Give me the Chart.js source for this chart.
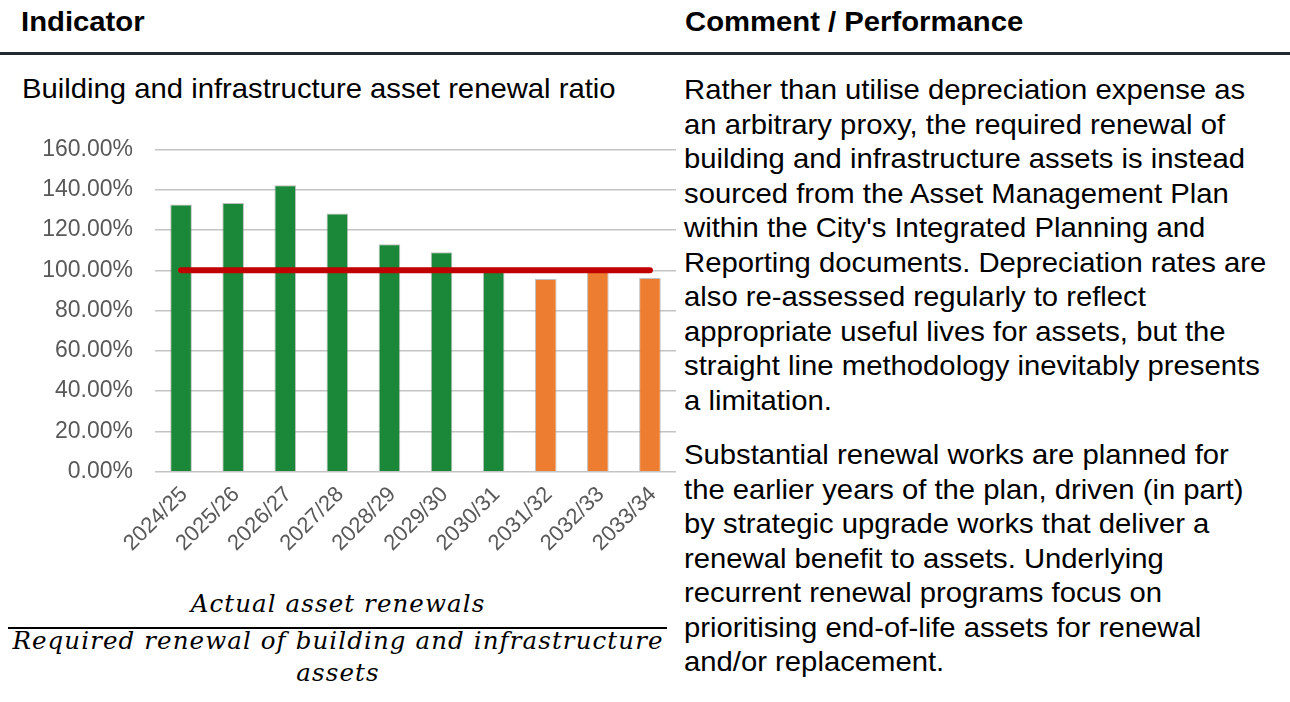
<!DOCTYPE html>
<html>
<head>
<meta charset="utf-8">
<script src="https://cdn.jsdelivr.net/npm/chart.js@4"></script>
<style>
  html, body { margin: 0; padding: 0; background: #fff; }
  body { width: 1290px; height: 702px; position: relative; overflow: hidden;
         font-family: "Liberation Sans", Arial, sans-serif; color: #000; }
  .txt { position: absolute; font-size: 28px; line-height: 34.5px; white-space: nowrap;
         transform: scaleX(1.045); transform-origin: 0 0; }
  .hdr { font-weight: bold; }
  .rule { position: absolute; left: 0; top: 52px; width: 1290px; height: 3px; background: #222a30; }
  #chartBox { position: absolute; left: 0; top: 130px; width: 680px; height: 430px; }
  .formula { position: absolute; left: 0; width: 676px; text-align: center; line-height: 30px;
             font-family: "DejaVu Serif", serif; font-style: italic; font-size: 24.5px;
             letter-spacing: 1.1px; white-space: nowrap; }
  .fracbar { position: absolute; left: 8px; top: 627px; width: 659px; height: 2px; background: #000; }
</style>
</head>
<body>
  <div class="txt hdr" style="left:21px; top:5px">Indicator</div>
  <div class="txt hdr" style="left:685px; top:5px">Comment / Performance</div>
  <div class="rule"></div>

  <div class="txt" style="left:22px; top:72px">Building and infrastructure asset renewal ratio</div>

  <div id="chartBox"><canvas id="chart"></canvas></div>

  <div class="formula" style="top:589px">Actual asset renewals</div>
  <div class="fracbar"></div>
  <div class="formula" style="top:626px">Required renewal of building and infrastructure</div>
  <div class="formula" style="top:658px">assets</div>

  <div class="txt" style="left:684px; top:73px">
    Rather than utilise depreciation expense as<br>
    an arbitrary proxy, the required renewal of<br>
    building and infrastructure assets is instead<br>
    sourced from the Asset Management Plan<br>
    within the City's Integrated Planning and<br>
    Reporting documents. Depreciation rates are<br>
    also re-assessed regularly to reflect<br>
    appropriate useful lives for assets, but the<br>
    straight line methodology inevitably presents<br>
    a limitation.
  </div>
  <div class="txt" style="left:684px; top:438px">
    Substantial renewal works are planned for<br>
    the earlier years of the plan, driven (in part)<br>
    by strategic upgrade works that deliver a<br>
    renewal benefit to assets. Underlying<br>
    recurrent renewal programs focus on<br>
    prioritising end-of-life assets for renewal<br>
    and/or replacement.
  </div>

<script>
// Financial years on the category axis
const years = ['2024/25', '2025/26', '2026/27', '2027/28', '2028/29',
               '2029/30', '2030/31', '2031/32', '2032/33', '2033/34'];

// Renewal ratio per year, in percent
const renewalRatio = [132.7, 133.4, 142.3, 128.2, 113.0, 109.0, 99.6, 95.7, 99.4, 96.2];

// Benchmark ratio (100%) drawn as a line across the years
const benchmark = [100, 100, 100, 100, 100, 100, 100, 100, 100, 100];

// Which years are in the first block vs the later block of the plan
const period = ['early', 'early', 'early', 'early', 'early', 'early', 'early', 'late', 'late', 'late'];

// Y axis tick values
const yTicks = [0, 20, 40, 60, 80, 100, 120, 140, 160];

const periodColour = { early: '#1b8739', late: '#ed7d31' };

const yFont = { family: '"Liberation Sans", Arial, sans-serif', size: 23 };
const xFont = { family: '"Liberation Sans", Arial, sans-serif', size: 22 };

new Chart(document.getElementById('chart'), {
  data: {
    labels: years,
    datasets: [
      {
        type: 'line',
        data: benchmark,
        borderColor: '#c00000',
        borderWidth: 6,
        borderCapStyle: 'round',
        pointRadius: 0,
        fill: false,
        order: 0
      },
      {
        type: 'bar',
        data: renewalRatio,
        backgroundColor: period.map(p => periodColour[p]),
        borderColor: 'rgba(140,140,140,0.55)',
        borderWidth: 1,
        barPercentage: 1,
        categoryPercentage: 0.415,
        order: 1
      }
    ]
  },
  options: {
    responsive: true,
    maintainAspectRatio: false,
    animation: false,
    layout: { padding: { top: 19.5, right: 4, left: 0, bottom: 0 } },
    plugins: { legend: { display: false }, tooltip: { enabled: false } },
    scales: {
      x: {
        grid: { display: false, drawTicks: false },
        border: { display: false },
        ticks: {
          color: '#595959',
          font: xFont,
          autoSkip: false,
          minRotation: 45,
          maxRotation: 45,
          padding: 10,
          labelOffset: 3
        },
        afterFit: (s) => { s.height = 88.3; s.paddingLeft = 0; s.paddingRight = 0; }
      },
      y: {
        min: 0,
        max: 160,
        afterBuildTicks: (s) => { s.ticks = yTicks.map(v => ({ value: v })); },
        grid: { color: '#c4c4c4', lineWidth: 1.6, drawTicks: false },
        border: { display: false },
        ticks: {
          color: '#595959',
          font: yFont,
          padding: 22,
          callback: (v) => v.toFixed(2) + '%'
        },
        afterFit: (s) => { s.width = 155; s.paddingTop = 0; s.paddingBottom = 0; }
      }
    }
  }
});
</script>
</body>
</html>
